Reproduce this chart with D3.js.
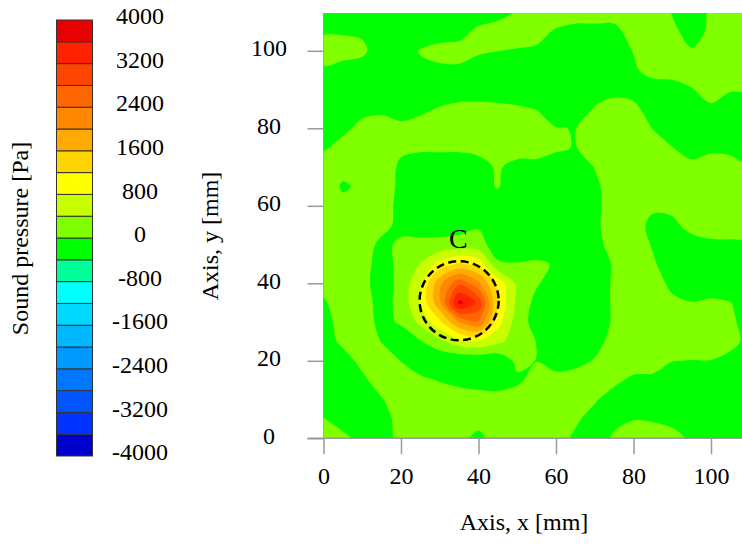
<!DOCTYPE html>
<html>
<head>
<meta charset="utf-8">
<script src="https://d3js.org/d3.v7.min.js"></script>
<style>
  body { margin: 0; background: #fff; }
  svg text { font-family: "Liberation Serif", "Times New Roman", serif; font-size: 24px; fill: #000; }
</style>
</head>
<body>
<svg id="chart" width="742" height="545"></svg>
<script>
// contour levels [Pa] and band colours, lowest band first
const levels = [-4000, -3600, -3200, -2800, -2400, -2000, -1600, -1200, -800, -400, 0,
  400, 800, 1200, 1600, 2000, 2400, 2800, 3200, 3600, 4000]
const level_colors = ['#0000cc', '#0033ff', '#0055ff', '#0077ff', '#0099ff', '#00b8ff', '#00d8ff',
  '#00ffff', '#00ff99', '#00ff00', '#80ff00', '#c8ff00', '#ffff00', '#ffd500', '#ffaa00',
  '#ff8800', '#ff6600', '#ff4400', '#ff2200', '#e60000']
const bar_labels = [4000, 3200, 2400, 1600, 800, 0, -800, -1600, -2400, -3200, -4000]

const x_ticks = [0, 20, 40, 60, 80, 100]
const y_ticks = [0, 20, 40, 60, 80, 100]

// sound pressure on a 5 mm grid, rows from y = 110 down to y = 0
const grid_x = [0, 5, 10, 15, 20, 25, 30, 35, 40, 45, 50, 55, 60, 65, 70, 75, 80, 85, 90, 95, 100, 105, 110]
const grid_y = [110, 105, 100, 95, 90, 85, 80, 75, 70, 65, 60, 55, 50, 45, 40, 35, 30, 25, 20, 15, 10, 5, 0]
const pressure = [
  [-250, -250, -250, -250, -250, -250, -250, -250, -250, -200, 50, 250, 250, 150, 150, 150, 250, 225, -25, -200, 50, 250, 250],
  [-50, -50, -50, -250, -250, -250, -150, -150, 100, 250, 250, 150, -50, -100, -100, -100, 150, 250, 85, -150, 70, 250, 250],
  [200, 200, 65, -185, -200, 25, 100, 150, 50, 5, -40, -70, -250, -250, -250, -230, 20, 250, 150, 30, 200, 250, 250],
  [-60, -190, -150, -250, -250, -80, -60, -75, -175, -250, -250, -250, -250, -250, -250, -250, -70, 180, 150, 220, 250, 250, 250],
  [-250, -250, -250, -250, -250, -250, -225, -160, -155, -170, -200, -250, -250, -250, -165, -105, -135, -250, -150, -25, 175, 15, 35],
  [-250, -250, -125, -75, -150, -75, 30, 90, 95, 75, 45, -10, -220, -225, 30, 150, 90, -165, -250, -250, -75, -100, -200],
  [-250, -100, 125, 160, 90, 150, 250, 250, 250, 250, 250, 175, 15, -10, 200, 250, 235, -15, -225, -250, -250, -250, -250],
  [-60, 150, 250, 250, 60, 60, 60, 60, 75, 150, 145, 145, 60, -20, 200, 250, 250, 225, 10, -150, -75, -100, -250],
  [190, 135, 175, 190, -60, -190, -190, -190, -100, 35, -100, -105, -190, -235, 15, 250, 250, 250, 250, 100, 175, 150, 10],
  [250, -50, 75, 175, -75, -250, -250, -250, -125, 25, -225, -250, -250, -250, -75, 175, 250, 250, 250, 250, 250, 250, 250],
  [250, 110, 250, 150, -100, -250, -250, -250, -200, -195, -250, -250, -250, -250, -85, 165, 150, 65, 100, 165, 250, 250, 250],
  [250, 250, 250, 135, -115, -150, -160, -125, -40, -100, -250, -250, -250, -250, -75, 175, 155, -95, -85, 125, 175, 175, 170],
  [250, 250, 200, -100, 75, 85, 100, 125, 150, -200, -250, -250, -250, -250, -115, 135, 215, -35, -250, -150, -75, -65, -80],
  [250, 250, 120, -130, 90, 420, 950, 1250, 1050, 50, 20, 60, -30, -250, -250, 50, 250, 50, -200, -250, -250, -250, -250],
  [130, 250, 100, -150, 95, 750, 1900, 2700, 2100, 1050, 300, 45, -205, -250, -200, 50, 250, 165, -85, -225, -200, -250, -250],
  [-50, 200, 150, -125, 95, 850, 1900, 3750, 3100, 1150, 300, -125, -250, -250, -200, 50, 250, 250, 75, 10, 60, 10, -150],
  [-120, 130, 200, -120, 50, 500, 1100, 2000, 2400, 950, 200, -150, -250, -250, -200, 50, 250, 250, 250, 220, 250, 70, -150],
  [-170, 80, 235, -15, -240, -30, 300, 650, 750, 500, 200, -10, -250, -250, -125, 125, 250, 250, 225, 225, 225, 100, -100],
  [-250, -150, 100, 200, -10, -250, -350, -350, -350, -300, 100, -10, -125, -100, 25, 250, 250, 160, 10, -10, -10, -100, -250],
  [-250, -250, -75, 175, 250, 85, -25, -90, -125, -140, -75, 150, 100, 150, 250, 100, -100, -85, -225, -250, -250, -250, -250],
  [-250, -250, -250, -25, 225, 250, 225, 160, 125, 110, 200, 250, 250, 250, 50, -200, -250, -250, -250, -250, -250, -250, -250],
  [20, -175, -250, -130, 120, 250, 250, 150, 150, 250, 250, 250, 250, 75, -175, -85, -20, -50, -125, -250, -250, -250, -250],
  [250, 95, -155, -155, 95, 250, 250, 100, -100, 150, 250, 250, 165, -85, -200, 50, 250, 250, 150, -100, -250, -250, -250]
]

const marker = { x: 35, y: 35.5, r: 10.2, label: 'C', label_x: 34.8, label_y: 49.1 }

const svg = d3.select('#chart')

const x = d3.scaleLinear().domain([0, 110]).range([323.5, 749.75])
const y = d3.scaleLinear().domain([0, 110]).range([438.3, 12.05])

// grid index -> mm, d3.contours puts sample i at i + 0.5
const gx = d3.scaleLinear().domain([0.5, grid_x.length - 0.5]).range([grid_x[0], grid_x[grid_x.length - 1]])
const gy = d3.scaleLinear().domain([0.5, grid_y.length - 0.5]).range([grid_y[0], grid_y[grid_y.length - 1]])

svg.append('clipPath').attr('id', 'plot-clip')
  .append('rect')
  .attr('x', x(0)).attr('y', y(109.75))
  .attr('width', x(108) - x(0)).attr('height', y(0) - y(109.75))

const plot = svg.append('g').attr('clip-path', 'url(#plot-clip)')

plot.append('rect')
  .attr('x', x(0)).attr('y', y(109.75))
  .attr('width', x(108) - x(0)).attr('height', y(0) - y(109.75))
  .attr('fill', level_colors[9])

const contours = d3.contours()
  .size([grid_x.length, grid_y.length])
  .thresholds(levels.slice(0, -1))(pressure.flat())

const ring_line = d3.line()
  .x(p => x(gx(p[0])))
  .y(p => y(gy(p[1])))
  .curve(d3.curveCatmullRomClosed.alpha(0.5))

plot.selectAll('.band')
  .data(contours)
  .enter()
  .append('path')
  .attr('class', 'band')
  .attr('fill', (d, i) => level_colors[i])
  .attr('fill-rule', 'evenodd')
  .attr('d', d => d.coordinates
    .map(poly => poly.map(ring => ring_line(ring.slice(0, -1))).join(''))
    .join(''))

// axes
const axis_grey = '#9a9a9a'

svg.append('line')
  .attr('x1', x(0) - 16).attr('x2', 742)
  .attr('y1', y(0)).attr('y2', y(0))
  .attr('stroke', axis_grey).attr('stroke-width', 1.5)

const x_axis = svg.append('g')
  .attr('transform', `translate(0,${y(0)})`)
  .call(d3.axisBottom(x).tickValues(x_ticks).tickSize(16).tickPadding(13))
x_axis.select('.domain').remove()
x_axis.selectAll('line').attr('stroke', axis_grey).attr('stroke-width', 1.5)

const y_axis = svg.append('g')
  .attr('transform', `translate(${x(0)},0)`)
  .call(d3.axisLeft(y).tickValues(y_ticks).tickSize(16))
y_axis.select('.domain').remove()
y_axis.selectAll('line').attr('stroke', axis_grey).attr('stroke-width', 1.5)
y_axis.selectAll('text')
  .attr('x', 269 - x(0))
  .attr('dy', '0.21em')
  .attr('text-anchor', 'middle')

svg.append('text')
  .attr('x', 524).attr('y', 530)
  .attr('text-anchor', 'middle')
  .text('Axis, x [mm]')

svg.append('text')
  .attr('transform', 'translate(218,236) rotate(-90)')
  .attr('text-anchor', 'middle')
  .text('Axis, y [mm]')

// marked region C
svg.append('circle')
  .attr('cx', x(marker.x)).attr('cy', y(marker.y))
  .attr('r', x(marker.r) - x(0))
  .attr('fill', 'none')
  .attr('stroke', '#000')
  .attr('stroke-width', 2.5)
  .attr('stroke-dasharray', '8 4.5')

svg.append('text')
  .attr('x', x(marker.label_x)).attr('y', y(marker.label_y))
  .attr('text-anchor', 'middle')
  .style('font-size', '28px')
  .text(marker.label)

// colour bar
const cb = d3.scaleLinear().domain([-4000, 4000]).range([456, 20])
const bar = svg.append('g')

bar.selectAll('rect')
  .data(level_colors)
  .enter()
  .append('rect')
  .attr('x', 56.5).attr('width', 36)
  .attr('y', (c, i) => cb(levels[i + 1]))
  .attr('height', (c, i) => cb(levels[i]) - cb(levels[i + 1]))
  .attr('fill', c => c)
  .attr('stroke', '#333')
  .attr('stroke-width', 1)

bar.selectAll('text')
  .data(bar_labels)
  .enter()
  .append('text')
  .attr('x', 140).attr('y', v => cb(v) + 4.1)
  .attr('text-anchor', 'middle')
  .text(v => v)

svg.append('text')
  .attr('transform', 'translate(28,238.5) rotate(-90)')
  .attr('text-anchor', 'middle')
  .text('Sound pressure [Pa]')
</script>
</body>
</html>
